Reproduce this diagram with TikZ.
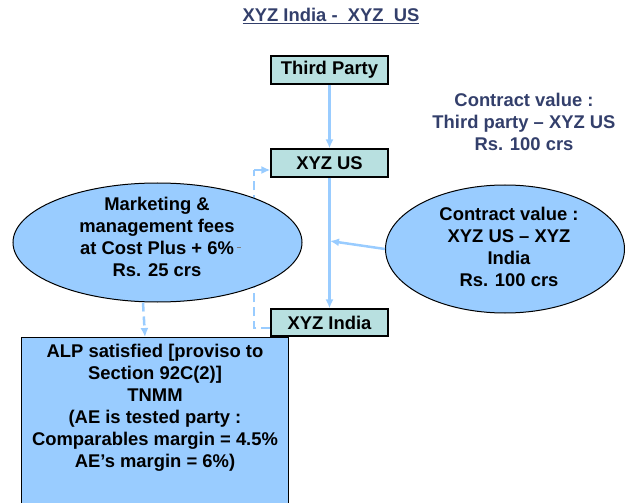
\documentclass[tikz,border=0pt]{standalone}
\usepackage{fontspec}
\setmainfont{Liberation Sans}
\usetikzlibrary{arrows.meta,shapes.geometric}
\definecolor{slate}{RGB}{51,63,107}
\definecolor{boxteal}{RGB}{184,224,224}
\definecolor{paleblue}{RGB}{153,204,255}
\begin{document}
\begin{tikzpicture}[
    x=1pt, y=-1pt,
    every node/.style={align=center, font=\fontsize{18.4}{22}\selectfont\bfseries},
    party box/.style={draw, line width=1.2pt, fill=boxteal, minimum width=117pt, minimum height=28pt, inner sep=0pt},
    fee ellipse/.style={draw, ellipse, line width=1pt, fill=paleblue, inner sep=0pt},
    flow arrow/.style={draw=paleblue, line width=2.5pt, -{Latex[length=9pt,width=8pt]}},
    dashed arrow/.style={draw=paleblue, line width=2.5pt, dash pattern=on 9pt off 5pt},
    ]
\useasboundingbox (0,0) rectangle (625,503);
\clip (0,0) rectangle (625,503);
\node[text=slate] (title) at (331,16) {\underline{XYZ India -\ \ XYZ\ \ US}};
\node[text=slate] (tpvalue) at (524,122) {Contract value :\\Third party -- XYZ US\\Rs. 100 crs};
\node[party box] (third) at (329.5,70) {Third Party};
\node[party box] (us) at (329.5,163) {XYZ US};
\node[party box, minimum height=27pt] (india) at (329.5,322.5) {XYZ India};
\coordinate (join) at (330,241);
\coordinate (upper) at (254,170);
\coordinate (lower) at (254,328);
% dashed bracket from XYZ India back to XYZ US
\draw[dashed arrow] (india.west |- lower) -- (lower) -- (upper);
\draw[dashed arrow, -{Latex[length=9pt,width=8pt]}] (upper) -- (us.west |- upper);
\node[fee ellipse, minimum width=289pt, minimum height=119pt] (fees) at (157.5,242.5) {};
\node (feetext) at (157,236.5) {Marketing \&\\management fees\\at Cost Plus + 6\%\\Rs. 25 crs};
\draw[line width=0.6pt, gray] (fees.center) ++(79,5) -- ++(4,0);
\node[fee ellipse, minimum width=239pt, minimum height=128pt] (usvalue) at (505,249) {};
\node (usvaluetext) at (509,247) {Contract value :\\XYZ US -- XYZ\\India\\Rs. 100 crs};
\draw[flow arrow] (third) -- (us);
\draw[flow arrow] (us) -- (india);
\draw[flow arrow] (usvalue.west) -- (join);
\node[draw, line width=1.2pt, fill=paleblue, minimum width=267pt, minimum height=180pt, anchor=north, inner sep=0pt] (alp) at (155,337) {};
\node (alptext) at (155,408) {ALP satisfied [proviso to\\Section 92C(2)]\\TNMM\\(AE is tested party :\\Comparables margin = 4.5\%\\AE’s margin = 6\%)};
\draw[dashed arrow, -{Latex[length=9pt,width=8pt]}] (fees.south -| alp.north) ++(-12,0) -- ([xshift=-10pt]alp.north);
\end{tikzpicture}
\end{document}
